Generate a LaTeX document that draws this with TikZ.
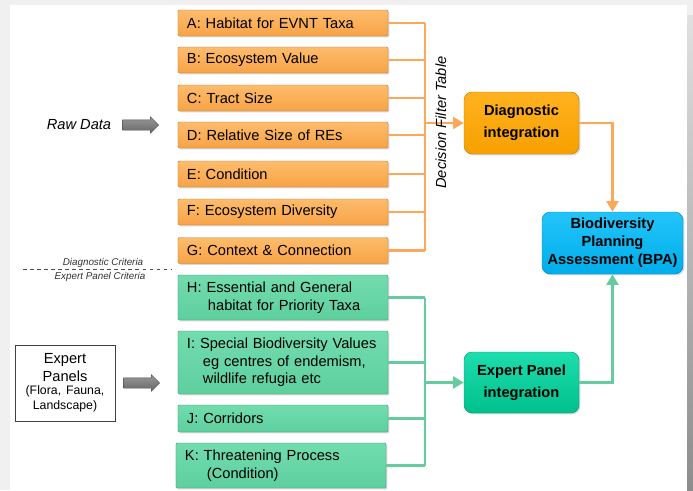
\documentclass[tikz,border=0pt]{standalone}
\usepackage{fontspec}
\setmainfont{Liberation Sans}
\usepackage{tikz}
\usetikzlibrary{positioning}
\usetikzlibrary{shapes.arrows}
\usetikzlibrary{shadows}
\usetikzlibrary{arrows.meta}

\definecolor{critorange}{HTML}{F8A346}
\definecolor{critorangetop}{HTML}{FDBC6C}
\definecolor{critgreen}{HTML}{5ECF9E}
\definecolor{critgreentop}{HTML}{72DCAE}
\definecolor{busorange}{HTML}{FBA85A}
\definecolor{busgreen}{HTML}{66CC9F}
\definecolor{diagorange}{HTML}{F7A000}
\definecolor{diagorangetop}{HTML}{FFB21E}
\definecolor{expgreen}{HTML}{00C08C}
\definecolor{expgreentop}{HTML}{1EDDAE}
\definecolor{bpablue}{HTML}{00AEEA}
\definecolor{bpabluetop}{HTML}{22C4FA}
\definecolor{bggray}{HTML}{F0F0F0}

\tikzset{
    boxshadow/.style={drop shadow={opacity=0.3, shadow xshift=1.2pt, shadow yshift=-1.2pt}},
    obox/.style={rectangle, rounded corners=1pt, draw=critorange!75!black, top color=critorangetop, bottom color=critorange,
        minimum width=6.3cm, minimum height=0.78cm, text width=5.76cm, inner xsep=0.27cm, inner ysep=0pt, align=left, boxshadow},
    gbox/.style={rectangle, rounded corners=1pt, draw=critgreen!70!black, top color=critgreentop, bottom color=critgreen,
        minimum width=6.3cm, text width=5.76cm, inner xsep=0.27cm, inner ysep=0pt, align=left, boxshadow},
    intbox/.style={rectangle, rounded corners=7pt, draw=#1!80!black, top color=#1top, bottom color=#1,
        minimum width=3.45cm, minimum height=1.86cm, align=center, inner sep=0pt, boxshadow},
    obus/.style={draw=busorange, line width=2.4pt},
    gbus/.style={draw=busgreen, line width=2.4pt},
    tip/.style={-{Triangle[length=9pt, width=10pt]}},
    blockarrow/.style={single arrow, draw=black!70, top color=black!40, bottom color=black!60, single arrow head extend=0.09cm,
        single arrow head indent=0pt, minimum height=1.08cm, inner ysep=0.15cm, inner xsep=0pt},
}

\begin{document}
\begin{tikzpicture}[x=0.03cm, y=-0.03cm, font=\fontsize{12.5}{15}\selectfont]
    % slide background
    \useasboundingbox (0,0) rectangle (693,490);
    \fill[bggray] (0,0) rectangle (693,490);
    \fill[white] (10,5) rectangle (687,490);
    \shade[top color=black!12, bottom color=black!45] (687,15) rectangle (693,490);

    % diagnostic criteria
    \foreach \n/\y/\t in {a/23/{A: Habitat for EVNT Taxa}, b/60/{B: Ecosystem Value}, c/98/{C: Tract Size},
        d/135/{D: Relative Size of REs}, e/174/{E: Condition}, f/212/{F: Ecosystem Diversity},
        g/250.5/{G: Context \& Connection}}
        \node[obox] (\n) at (283,\y) {\t};

    % expert panel criteria
    \node[gbox, minimum height=1.35cm] (h) at (283,297.5) {H: Essential and General\\\hspace*{0.63cm}habitat for Priority Taxa};
    \node[gbox, minimum height=1.89cm] (i) at (283,362.5) {I: Special Biodiversity Values\\\hspace*{0.48cm}eg centres of endemism,\\\hspace*{0.48cm}wildlife refugia etc};
    \node[gbox, minimum height=0.81cm] (j) at (283,418.5) {J: Corridors};
    \node[gbox, minimum height=1.35cm] (k) at (281,465.5) {K: Threatening Process\\\hspace*{0.66cm}(Condition)};

    % integration boxes
    \node[intbox=diagorange, font=\bfseries\fontsize{12.5}{18.5}\selectfont] (diag) at (521.5,123) {Diagnostic\\integration};
    \node[intbox=expgreen, minimum height=1.83cm, font=\bfseries\fontsize{12.5}{18.5}\selectfont] (expint) at (521.5,382.5) {Expert Panel\\integration};
    \node[intbox=bpablue, minimum width=4.23cm, font=\bfseries\fontsize{12.5}{15.3}\selectfont] (bpa) at (612.5,243) {Biodiversity\\Planning\\Assessment (BPA)};

    % inputs
    \node[font=\itshape\fontsize{12.5}{15}\selectfont] (raw) at (79,125) {Raw Data};
    \node[blockarrow] (rawarrow) at (138,125) {};
    \node[draw=black!75, fill=white, minimum width=3cm, minimum height=2.28cm, inner sep=0pt, text width=3cm, align=center,
        drop shadow={opacity=0.25, shadow xshift=1pt, shadow yshift=-1pt}] (panel) at (65,383)
        {{\fontsize{12.5}{15.3}\selectfont Expert\\Panels\par}\vspace{-1.5pt}{\frenchspacing\fontsize{10.5}{12.7}\selectfont (Flora, Fauna,\\Landscape)\par}};
    \node[blockarrow] (panelarrow) at (139,383) {};

    % criteria separator
    \coordinate (sepl) at (23,269);
    \coordinate (sepr) at (172,269);
    \draw[dashed, black!70, line width=0.6pt] (sepl) -- (sepr);
    \node[font=\itshape\fontsize{8.4}{10}\selectfont, text=black!80, inner sep=1pt] (dcrit) at (103,262.5) {Diagnostic Criteria};
    \node[font=\itshape\fontsize{8.4}{10}\selectfont, text=black!80, inner sep=1pt] (ecrit) at (100,276.5) {Expert Panel Criteria};

    % buses
    \coordinate (dbus) at (425,0);
    \coordinate (gbus) at (425,0);
    \foreach \n in {a,b,c,d,e,f,g}
        \draw[obus] (\n.east) -- (\n.east -| dbus);
    \draw[obus] (a.east -| dbus) -- (g.east -| dbus);
    \draw[obus, tip] (diag.west -| dbus) -- (diag.west);
    \foreach \n in {h,i,j,k}
        \draw[gbus] (\n.east) -- (\n.east -| gbus);
    \draw[gbus] (h.east -| gbus) -- (k.east -| gbus);
    \draw[gbus, tip] (expint.west -| gbus) -- (expint.west);

    \node[rotate=90, font=\itshape\fontsize{12.5}{15}\selectfont] (dft) at (441,122.5) {Decision Filter Table};

    % to the assessment
    \draw[obus, tip] (diag.east) -| (bpa.north);
    \draw[gbus, tip] (expint.east) -| (bpa.south);
\end{tikzpicture}
\end{document}
